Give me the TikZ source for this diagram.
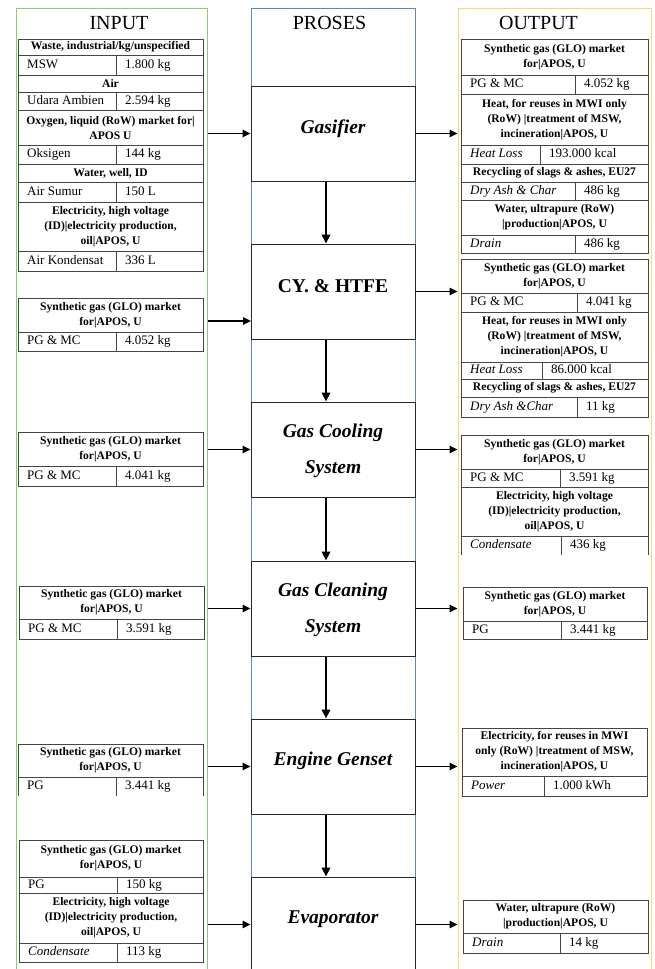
\documentclass[tikz,border=0pt]{standalone}
\usepackage{fontspec}
\setmainfont{Liberation Serif}
\usetikzlibrary{arrows.meta}
\definecolor{pgreen}{RGB}{150,200,110}
\definecolor{pblue}{RGB}{95,135,185}
\definecolor{pyellow}{RGB}{245,220,110}
\definecolor{tl}{RGB}{70,70,70}
\tikzset{
  tline/.style={draw=tl, line width=0.9pt},
  hd/.style={align=center, inner sep=0pt, font=\bfseries\fontsize{11.6}{15}\selectfont},
  dt/.style={anchor=west, inner sep=0pt, text height=9pt, text depth=2.8pt, font=\fontsize{13}{15}\selectfont},
  ttl/.style={inner sep=0pt, font=\fontsize{20}{24}\selectfont},
  panel/.style={draw, line width=1pt, minimum width=#1, minimum height=974pt, inner sep=0pt},
  proc/.style={draw=black!85, fill=white, line width=1pt, minimum width=164pt, minimum height=95pt, inner sep=0pt},
  ptxt/.style={inner sep=0pt, align=center, font=\bfseries\itshape\fontsize{19.5}{36.5}\selectfont},
  harr/.style={line width=1.5pt, -{Triangle[length=8pt,width=7.5pt]}},
  darr/.style={line width=2.2pt, -{Triangle[length=9pt,width=8.5pt]}}
}
\newcommand{\hdr}[6]{%
  \draw[tline] (#2,#4) rectangle (#3,#5);
  \node[hd] (#1) at ({(#2+#3)/2},{(#4+#5)/2}) {#6};}
\newcommand{\dat}[8]{%
  \draw[tline] (#2,#5) rectangle (#4,#6);
  \draw[tline] (#3,#5) -- (#3,#6);
  \node[dt] (#1a) at (#2+9,{(#5+#6)/2}) {#7};
  \node[dt] (#1b) at (#3+9,{(#5+#6)/2}) {#8};}
\newcommand{\datopen}[8]{%
  \draw[tline] (#2,#6) -- (#2,#5) -- (#4,#5) -- (#4,#6);
  \draw[tline] (#3,#5) -- (#3,#6);
  \node[dt] (#1a) at (#2+9,{(#5+#6)/2}) {#7};
  \node[dt] (#1b) at (#3+9,{(#5+#6)/2}) {#8};}
\begin{document}
\begin{tikzpicture}[x=1pt,y=-1pt]
\useasboundingbox (0,0) rectangle (654,969);
\clip (0,0) rectangle (654,969);
\fill[white] (0,0) rectangle (654,969);

% panels
\node[panel=191pt, draw=pgreen] (inp) at (111.5,495) {};
\node[panel=164pt, draw=pblue] (prs) at (333,495) {};
\node[panel=193pt, draw=pyellow] (outp) at (554.5,495.5) {};

\node[ttl] (intitle) at (119,23) {INPUT};
\node[ttl] (prstitle) at (329.5,23) {PROSES};
\node[ttl] (outtitle) at (538.5,23) {OUTPUT};

% process boxes
\node[proc] (gas) at (333,133.5) {};
\node[proc] (cy) at (333,291.5) {};
\node[proc] (gcs) at (333,449.5) {};
\node[proc] (gcl) at (333,608.5) {};
\node[proc] (eng) at (333,766.5) {};
\node[proc] (eva) at (333,924.5) {};
\node[ptxt] (gastxt) at (333,129) {Gasifier};
\node[ptxt, font=\bfseries\fontsize{19.5}{24}\selectfont] (cytxt) at (333,286) {CY. \& HTFE};
\node[ptxt] (gcstxt) at (333,451) {Gas Cooling\\System};
\node[ptxt] (gcltxt) at (333,610) {Gas Cleaning\\System};
\node[ptxt] (engtxt) at (333,761) {Engine Genset};
\node[ptxt] (evatxt) at (333,919) {Evaporator};

% vertical arrows
\draw[darr] ([xshift=-7pt]gas.south) -- ([xshift=-7pt]cy.north);
\draw[darr] ([xshift=-7pt]cy.south) -- ([xshift=-7pt]gcs.north);
\draw[darr] ([xshift=-7pt]gcs.south) -- ([xshift=-7pt]gcl.north);
\draw[darr] ([xshift=-7pt]gcl.south) -- ([xshift=-7pt]eng.north);
\draw[darr] ([xshift=-7pt]eng.south) -- ([xshift=-7pt]eva.north);

% input arrows
\coordinate (cyin) at (251,321);
\draw[harr] (inp.east |- gas.west) -- (gas.west);
\draw[harr] (inp.east |- cyin) -- (cyin);
\draw[harr] (inp.east |- gcs.west) -- (gcs.west);
\draw[harr] (inp.east |- gcl.west) -- (gcl.west);
\draw[harr] (inp.east |- eng.west) -- (eng.west);
\draw[harr] (inp.east |- eva.west) -- (eva.west);
% output arrows
\draw[harr] (gas.east) -- (outp.west |- gas.east);
\draw[harr] (cy.east) -- (outp.west |- cy.east);
\draw[harr] (gcs.east) -- (outp.west |- gcs.east);
\draw[harr] (gcl.east) -- (outp.west |- gcl.east);
\draw[harr] (eng.east) -- (outp.west |- eng.east);
\draw[harr] (eva.east) -- (outp.west |- eva.east);

% ---------- INPUT tables ----------
\hdr{t1h1}{18}{203}{39}{55}{Waste, industrial/kg/unspecified}
\dat{t1r1}{18}{116}{203}{55}{75}{MSW}{1.800 kg}
\hdr{t1h2}{18}{203}{75}{92}{Air}
\dat{t1r2}{18}{116}{203}{92}{110}{Udara Ambien}{2.594 kg}
\hdr{t1h3}{18}{203}{110}{145}{Oxygen, liquid (RoW) market for|\\APOS U}
\dat{t1r3}{18}{116}{203}{145}{164}{Oksigen}{144 kg}
\hdr{t1h4}{18}{203}{164}{182}{Water, well, ID}
\dat{t1r4}{18}{116}{203}{182}{202}{Air Sumur}{150 L}
\hdr{t1h5}{18}{203}{202}{251}{Electricity, high voltage\\(ID)|electricity production,\\oil|APOS, U}
\dat{t1r5}{18}{116}{203}{251}{271}{Air Kondensat}{336 L}

\hdr{t2h}{18}{203}{298}{332}{Synthetic gas (GLO) market\\for|APOS, U}
\dat{t2r}{18}{116}{203}{332}{351}{PG \& MC}{4.052 kg}

\hdr{t3h}{18}{203}{432}{466}{Synthetic gas (GLO) market\\for|APOS, U}
\dat{t3r}{18}{116}{203}{466}{486}{PG \& MC}{4.041 kg}

\hdr{t4h}{19}{204}{586}{619}{Synthetic gas (GLO) market\\for|APOS, U}
\dat{t4r}{19}{117}{204}{619}{639}{PG \& MC}{3.591 kg}

\hdr{t5h}{18}{203}{744}{777}{Synthetic gas (GLO) market\\for|APOS, U}
\datopen{t5r}{18}{116}{203}{777}{796}{PG}{3.441 kg}

\hdr{t6h1}{19}{203}{840}{877}{Synthetic gas (GLO) market\\for|APOS, U}
\dat{t6r1}{19}{117}{203}{877}{893}{PG}{150 kg}
\hdr{t6h2}{19}{203}{893}{943}{Electricity, high voltage\\(ID)|electricity production,\\oil|APOS, U}
\dat{t6r2}{19}{117}{203}{943}{962}{\itshape Condensate}{113 kg}

% ---------- OUTPUT tables ----------
\hdr{o1h1}{461}{648}{39}{75}{Synthetic gas (GLO) market\\for|APOS, U}
\dat{o1r1}{461}{575}{648}{75}{94}{PG \& MC}{4.052 kg}
\hdr{o1h2}{461}{648}{94}{145}{Heat, for reuses in MWI only\\(RoW) |treatment of MSW,\\incineration|APOS, U}
\dat{o1r2}{461}{540}{648}{145}{164}{\itshape Heat Loss}{193.000 kcal}
\hdr{o1h3}{461}{648}{164}{182}{Recycling of slags \& ashes, EU27}
\dat{o1r3}{461}{575}{648}{182}{200}{\itshape Dry Ash \& Char}{486 kg}
\hdr{o1h4}{461}{648}{200}{235}{Water, ultrapure (RoW)\\|production|APOS, U}
\dat{o1r4}{461}{575}{648}{235}{253}{\itshape Drain}{486 kg}

\hdr{o2h1}{461}{648}{259}{293}{Synthetic gas (GLO) market\\for|APOS, U}
\dat{o2r1}{461}{577}{648}{293}{312}{PG \& MC}{4.041 kg}
\hdr{o2h2}{461}{648}{312}{362}{Heat, for reuses in MWI only\\(RoW) |treatment of MSW,\\incineration|APOS, U}
\dat{o2r2}{461}{542}{648}{362}{379}{\itshape Heat Loss}{86.000 kcal}
\hdr{o2h3}{461}{648}{379}{397}{Recycling of slags \& ashes, EU27}
\dat{o2r3}{461}{577}{648}{397}{417}{\itshape Dry Ash \&Char}{11 kg}

\hdr{o3h1}{461}{648}{435}{469}{Synthetic gas (GLO) market\\for|APOS, U}
\dat{o3r1}{461}{560}{648}{469}{487}{PG \& MC}{3.591 kg}
\hdr{o3h2}{461}{648}{487}{536}{Electricity, high voltage\\(ID)|electricity production,\\oil|APOS, U}
\datopen{o3r2}{461}{561}{648}{536}{555}{\itshape Condensate}{436 kg}

\hdr{o4h}{463}{647}{587}{621}{Synthetic gas (GLO) market\\for|APOS, U}
\dat{o4r}{463}{561}{647}{621}{639}{PG}{3.441 kg}

\hdr{o5h}{462}{647}{728}{776}{Electricity, for reuses in MWI\\only (RoW) |treatment of MSW,\\incineration|APOS, U}
\dat{o5r}{462}{544}{647}{776}{796}{\itshape Power}{1.000 kWh}

\hdr{o6h}{463}{648}{900}{933}{Water, ultrapure (RoW)\\|production|APOS, U}
\dat{o6r}{463}{560}{648}{933}{953}{\itshape Drain}{14 kg}
\end{tikzpicture}
\end{document}
